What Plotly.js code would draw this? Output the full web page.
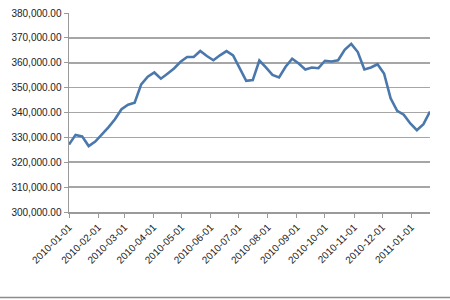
<!DOCTYPE html>
<html>
<head>
<meta charset="utf-8">
<script src="https://cdn.plot.ly/plotly-3.0.1.min.js"></script>
<style>
html,body{margin:0;padding:0;background:#fff;}
#chart{width:450px;height:300px;}
</style>
</head>
<body>
<div id="chart"></div>
<script>
// Weekly values, starting 2010-01-01
const startDate = "2010-01-01";
const values = [
  327100, 331000, 330400, 326500, 328300, 331000, 334000, 337300, 341300, 343100,
  343900, 351300, 354400, 356100, 353600, 355600, 357700, 360400, 362300, 362300,
  364700, 362700, 361000, 363000, 364700, 363000, 357700, 352700, 353000, 360900,
  358100, 355100, 354100, 358400, 361600, 359700, 357300, 358100, 357800, 360800,
  360500, 361000, 365200, 367600, 364300, 357300, 358100, 359400, 355700, 345700,
  340700, 339100, 335600, 332900, 335300, 340400
];
const tickDates = ["2010-01-01","2010-02-01","2010-03-01","2010-04-01","2010-05-01","2010-06-01",
  "2010-07-01","2010-08-01","2010-09-01","2010-10-01","2010-11-01","2010-12-01","2011-01-01"];
const yTicks = [300000,310000,320000,330000,340000,350000,360000,370000,380000];

// build weekly dates
const dates = [];
const d0 = new Date(startDate + "T00:00:00Z");
for (let i = 0; i < values.length; i++) {
  const d = new Date(d0.getTime() + i * 7 * 86400000);
  dates.push(d.toISOString().slice(0,10));
}

const trace = {
  x: dates, y: values, type: "scatter", mode: "lines",
  line: {color: "#4A78AC", width: 2.6, shape: "linear"},
  hoverinfo: "skip"
};

const layout = {
  width: 450, height: 300,
  margin: {l: 69, r: 20, t: 13, b: 88},
  paper_bgcolor: "#ffffff", plot_bgcolor: "#ffffff",
  showlegend: false,
  font: {family: "Liberation Sans, Arial, sans-serif", size: 10, color: "#222"},
  xaxis: {
    type: "date",
    range: [dates[0], dates[dates.length-1]],
    tickmode: "array", tickvals: tickDates, ticktext: tickDates,
    tickangle: -45,
    showgrid: false, zeroline: false,
    showline: true, linecolor: "#9a9a9a", linewidth: 1.5,
    ticks: "outside", ticklen: 4, tickcolor: "#9a9a9a", tickwidth: 1,
    tickfont: {size: 10, color: "#222"}
  },
  yaxis: {
    range: [300000, 380000],
    tickmode: "array", tickvals: yTicks,
    tickformat: ",.2f",
    showgrid: true, gridcolor: "#a6a6a6", gridwidth: 1.6,
    zeroline: false,
    showline: true, linecolor: "#9a9a9a", linewidth: 1.5,
    ticks: "outside", ticklen: 4, tickcolor: "#9a9a9a", tickwidth: 1,
    tickfont: {size: 10, color: "#222"}
  },
  shapes: [{
    type: "line", xref: "paper", yref: "paper",
    x0: -69/361, x1: 1 + 20/361, y0: -0.43, y1: -0.43,
    line: {color: "#8c8c8c", width: 1.5}
  }]
};

Plotly.newPlot("chart", [trace], layout, {staticPlot: true, displayModeBar: false});
</script>
</body>
</html>
